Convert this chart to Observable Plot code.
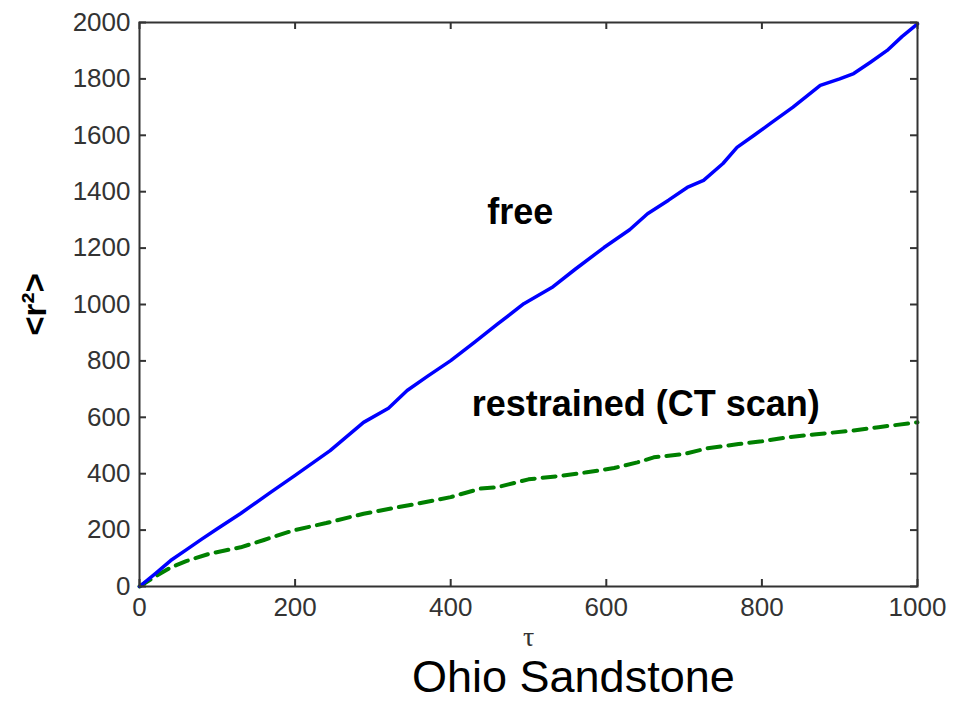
<!DOCTYPE html>
<html><head><meta charset="utf-8">
<script src="https://cdn.jsdelivr.net/npm/d3@7"></script>
<script src="https://cdn.jsdelivr.net/npm/@observablehq/plot@0.6"></script>
<style>
body{margin:0;background:#fff;font-family:"Liberation Sans",Arial,sans-serif;}
#wrap{position:relative;width:961px;height:702px;}
#cap{position:absolute;left:412px;top:652px;height:50px;font-size:45px;line-height:50px;color:#000;white-space:nowrap;}
</style></head>
<body><div id="wrap"><div id="chart"></div><div id="cap">Ohio Sandstone</div></div>
<script>
// "free" curve: tau and <r^2>
const freeTau = [0,20,40,60,80,100,130,168,200,245,288,320,344,370,400,430,460,494,530,560,597,630,653,680,704,725,750,768,790,811,840,875,900,918,940,961,980,1000];
const freeR2  = [0,45,92,130,168,205,259,333,394,482,582,632,695,745,801,865,930,1003,1060,1125,1202,1265,1322,1370,1415,1440,1500,1557,1600,1642,1700,1777,1800,1819,1860,1901,1950,1995];
// "restrained (CT scan)" curve
const ctTau = [0,20,40,60,91,130,160,198,240,288,320,352,400,438,460,500,540,575,610,640,661,700,730,770,800,833,870,918,950,1000];
const ctR2  = [0,35,67,90,117,139,165,199,225,258,275,291,317,347,352,380,392,405,420,440,458,470,490,505,515,529,540,553,565,582];
const xTicks = [0,200,400,600,800,1000];
const yTicks = [0,200,400,600,800,1000,1200,1400,1600,1800,2000];
const labelFree = "free";
const labelCT = "restrained (CT scan)";
const xLabel = "τ";
const yLabel = "<r²>";

const free = freeTau.map((t,i)=>({tau:t, r2:freeR2[i]}));
const ct = ctTau.map((t,i)=>({tau:t, r2:ctR2[i]}));

const W = 961, H = 652, ML = 139, MR = 44, MT = 22, MB = 66;
const frameW = W - ML - MR, frameH = H - MT - MB, tick = 7;

const chart = Plot.plot({
  width: W, height: H,
  marginLeft: ML, marginRight: MR, marginTop: MT, marginBottom: MB,
  style: {fontFamily: "'Liberation Sans', Arial, sans-serif", fontSize: "26px", background: "#fff", color: "#333"},
  x: {domain: [0, 1000]},
  y: {domain: [0, 2000]},
  marks: [
    Plot.line(ct, {x: "tau", y: "r2", stroke: "#008000", strokeWidth: 4, strokeDasharray: "13,8"}),
    Plot.line(free, {x: "tau", y: "r2", stroke: "#0000ff", strokeWidth: 3.5}),
    Plot.frame({stroke: "#333", strokeWidth: 2}),
    // inward ticks on all four sides
    Plot.ruleX(xTicks, {x: d => d, insetTop: frameH - tick, stroke: "#333", strokeWidth: 2}),
    Plot.ruleX(xTicks, {x: d => d, insetBottom: frameH - tick, stroke: "#333", strokeWidth: 2}),
    Plot.ruleY(yTicks, {y: d => d, insetRight: frameW - tick, stroke: "#333", strokeWidth: 2}),
    Plot.ruleY(yTicks, {y: d => d, insetLeft: frameW - tick, stroke: "#333", strokeWidth: 2}),
    Plot.axisX({anchor: "bottom", ticks: xTicks, tickSize: 0, tickPadding: 11.5, tickFormat: d => String(d), label: null, fill: "#333"}),
    Plot.axisY({anchor: "left", ticks: yTicks, tickSize: 0, tickPadding: 9, tickFormat: d => String(d), label: null, fill: "#333"}),
    Plot.text([labelFree], {x: 447, y: 1328, text: d => d, textAnchor: "start", lineAnchor: "middle", fontSize: 36, fontWeight: "bold", fill: "#000"}),
    Plot.text([labelCT], {x: 427, y: 644, text: d => d, textAnchor: "start", lineAnchor: "middle", fontSize: 36, fontWeight: "bold", fill: "#000"}),
    Plot.text([xLabel], {frameAnchor: "bottom", dy: 51, text: d => d, lineAnchor: "middle", fontSize: 28, fontFamily: "'Liberation Serif', serif", fill: "#333"}),
    Plot.text([yLabel], {frameAnchor: "left", dx: -104, rotate: -90, text: d => d, lineAnchor: "middle", textAnchor: "middle", fontSize: 33, fontWeight: "bold", fill: "#000"})
  ]
});
document.getElementById("chart").appendChild(chart);
</script>
</body></html>
